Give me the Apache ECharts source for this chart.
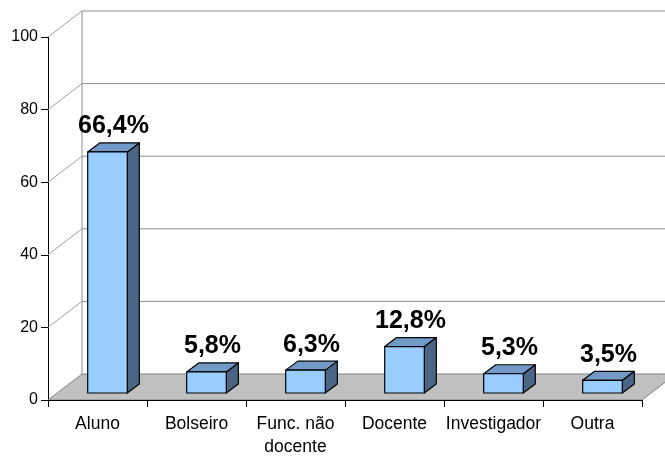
<!DOCTYPE html>
<html>
<head>
<meta charset="utf-8">
<script src="https://cdn.jsdelivr.net/npm/echarts@6/dist/echarts.min.js"></script>
<style>
html,body{margin:0;padding:0;background:#fff;}
#chart{width:665px;height:458px;}
</style>
</head>
<body>
<div id="chart"></div>
<script>
// ---- data ----
var categories = ['Aluno', 'Bolseiro', 'Func. não\ndocente', 'Docente', 'Investigador', 'Outra'];
var values = [66.4, 5.8, 6.3, 12.8, 5.3, 3.5];
var yTicks = [0, 20, 40, 60, 80, 100];

// ---- 3D styling (pixels) ----
var DX = 34, DY = -26;        // depth of floor / back wall
var OX = 10, OY = -7;         // bar front-face offset into the depth
var BDX = 12, BDY = -9;       // bar depth
var FONT = '"Liberation Sans", Arial, sans-serif';

var chart = echarts.init(document.getElementById('chart'), null, {renderer: 'canvas'});

function fmt(v) { return v.toFixed(1).replace('.', ',') + '%'; }

var option = {
  animation: false,
  backgroundColor: '#ffffff',
  grid: {left: 48, right: 23, top: 37, bottom: 58, containLabel: false, outerBoundsMode: 'none'},
  xAxis: {
    type: 'category',
    data: categories,
    boundaryGap: true,
    axisLine: {show: true, lineStyle: {color: '#000', width: 1}},
    axisTick: {show: true, length: 7, lineStyle: {color: '#000'}},
    axisLabel: {color: '#000', fontSize: 17.5, fontFamily: FONT, margin: 13, lineHeight: 23, interval: 0},
    z: 10
  },
  yAxis: {
    type: 'value',
    min: 0, max: 100, interval: 20,
    axisLine: {show: true, lineStyle: {color: '#000', width: 1}},
    axisTick: {show: true, length: 7, lineStyle: {color: '#000'}},
    axisLabel: {color: '#000', fontSize: 16, fontFamily: FONT, margin: 10},
    splitLine: {show: false}
  },
  series: [
    {
      type: 'custom',
      z: 1,
      silent: true,
      clip: false,
      data: yTicks.map(function (t) { return [0, t]; }),
      renderItem: function (params, api) {
        var cs = params.coordSys;
        var t = api.value(1);
        var y = api.coord([0, t])[1];
        var x0 = cs.x, x1 = cs.x + cs.width;
        var children = [];
        var grey = {stroke: '#8c8c8c', lineWidth: 1, fill: null};
        if (t === yTicks[0]) {
          children.push({
            type: 'polygon',
            shape: {points: [[x0, y], [x1, y], [x1 + DX, y + DY], [x0 + DX, y + DY]]},
            style: {fill: '#c0c0c0', stroke: '#808080', lineWidth: 1}
          });
          var yTop = api.coord([0, yTicks[yTicks.length - 1]])[1];
          children.push({
            type: 'line',
            shape: {x1: x0 + DX, y1: y + DY, x2: x0 + DX, y2: yTop + DY},
            style: grey
          });
        } else {
          children.push({
            type: 'line',
            shape: {x1: x0, y1: y, x2: x0 + DX, y2: y + DY},
            style: {stroke: '#a0a0a0', lineWidth: 1}
          });
          children.push({
            type: 'line',
            shape: {x1: x0 + DX, y1: y + DY, x2: x1 + DX, y2: y + DY},
            style: grey
          });
        }
        return {type: 'group', children: children};
      }
    },
    {
      type: 'custom',
      z: 5,
      clip: false,
      data: values.map(function (v, i) { return [i, v]; }),
      renderItem: function (params, api) {
        var idx = api.value(0), v = api.value(1);
        var base = api.coord([idx, 0]);
        var top = api.coord([idx, v]);
        var hw = api.size([1, 0])[0] * 0.2;
        var cx = base[0] + OX;
        var yb = base[1] + OY, yt = top[1] + OY;
        var l = cx - hw, r = cx + hw;
        var edge = {stroke: '#000', lineWidth: 1.2, lineJoin: 'round'};
        return {
          type: 'group',
          children: [
            {type: 'polygon', shape: {points: [[r, yb], [r + BDX, yb + BDY], [r + BDX, yt + BDY], [r, yt]]},
              style: Object.assign({fill: '#4b6584'}, edge)},
            {type: 'polygon', shape: {points: [[l, yt], [r, yt], [r + BDX, yt + BDY], [l + BDX, yt + BDY]]},
              style: Object.assign({fill: '#7399c6'}, edge)},
            {type: 'rect', shape: {x: l, y: yt, width: r - l, height: yb - yt},
              style: Object.assign({fill: '#99ccff'}, edge)},
            {type: 'text', x: cx + 6, y: yt + BDY - 4,
              style: {text: fmt(v), fill: '#000', font: 'bold 25px ' + FONT, textAlign: 'center', textVerticalAlign: 'bottom'}}
          ]
        };
      }
    }
  ]
};
chart.setOption(option);
</script>
</body>
</html>
